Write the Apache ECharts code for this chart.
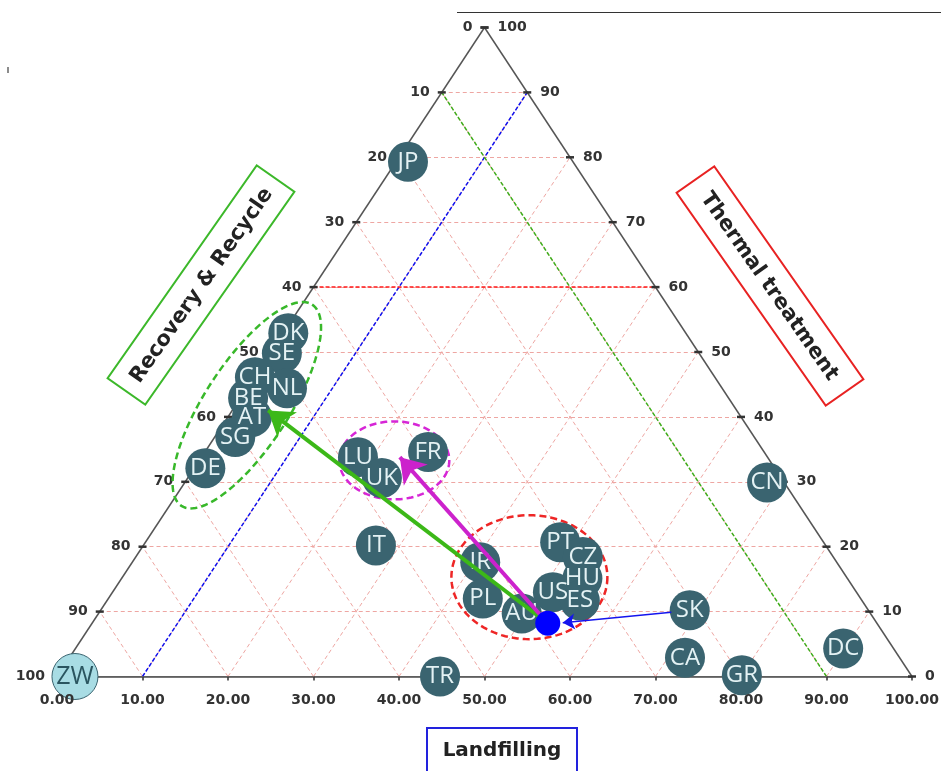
<!DOCTYPE html>
<html>
<head>
<meta charset="utf-8">
<script src="https://cdn.jsdelivr.net/npm/echarts@6/dist/echarts.min.js"></script>
<style>
  html, body { margin: 0; padding: 0; background: #ffffff; }
  #chart { width: 941px; height: 771px; }
</style>
</head>
<body>
<div id="chart"></div>
<script>
// Waste treatment shares by country (%): landfilling, thermal treatment, recovery & recycle
const codes    = ['JP', 'DK', 'SE', 'CH', 'NL', 'BE', 'AT', 'SG', 'DE', 'LU', 'UK', 'FR', 'IT',
                  'PT', 'CZ', 'IR', 'HU', 'US', 'PL', 'ES', 'AU', 'SK', 'CA', 'GR', 'DC', 'CN', 'TR'];
const landfill = [1.4, 0.6, 1.4, 0.1, 4.7, 0.9, 2.8, 2.4, 1.3, 18.3, 22.7, 26.1, 27.2,
                  48.5, 52.3, 40.7, 53.9, 51.5, 43.8, 55.3, 49.5, 68.9, 72.0, 80.0, 89.8, 68.1, 44.8];
const thermal  = [79.3, 52.9, 49.8, 46.1, 44.4, 42.9, 40.0, 36.9, 32.1, 33.8, 30.6, 34.6, 20.2,
                  20.7, 18.4, 17.6, 15.1, 13.0, 12.0, 11.7, 9.7, 10.2, 2.9, 0.2, 4.3, 29.9, 0.0];
const recycle  = [19.3, 46.5, 48.8, 53.8, 50.9, 56.2, 57.2, 60.7, 66.6, 47.9, 46.7, 39.3, 52.6,
                  30.8, 29.3, 41.7, 31.0, 35.5, 44.2, 33.0, 40.8, 20.9, 25.1, 19.8, 5.9, 2.0, 55.2];

// Zero-waste reference point and the highlighted mean position
const zeroWaste    = { code: 'ZW', landfill: 2.1, thermal: 0.0, recycle: 97.9 };
const meanPoint    = { landfill: 53.3, thermal: 8.2, recycle: 38.5 };

// Arrows [landfill, thermal] from -> to
const arrowFrom = [[53.3, 8.2], [53.3, 8.2], [66.9, 9.9]];
const arrowTo   = [[4.2, 41.0], [23.2, 33.8], [55.0, 8.3]];

// Group outlines: centre [landfill, thermal]
const groupCentres = [[1.3, 41.8], [22.8, 33.3], [47.6, 15.3]];

// Reference lines: landfill = 10, recycle = 10, thermal = 60 ([landfill, thermal] ends)
const refLineEnds = [
  [[10, 0], [10, 90]],
  [[90, 0], [0, 90]],
  [[0, 60], [40, 60]]
];

const tickSteps = [0, 10, 20, 30, 40, 50, 60, 70, 80, 90, 100];

// ternary (landfill, thermal) -> cartesian, bottom axis = landfill, height = thermal
function toXY(L, T) { return [L + T / 2, T]; }

const pink = '#eea6a2';
const gridSegs = [];
for (let k = 10; k <= 90; k += 10) {
  gridSegs.push({ coords: [toXY(0, k), toXY(100 - k, k)] });   // constant thermal
  gridSegs.push({ coords: [toXY(k, 0), toXY(k, 100 - k)] });   // constant landfill
  gridSegs.push({ coords: [toXY(100 - k, 0), toXY(0, 100 - k)] }); // constant recycle
}

const edgeSegs = [
  { coords: [toXY(0, 0), toXY(0, 100)] },
  { coords: [toXY(100, 0), toXY(0, 100)] },
  { coords: [toXY(0, 0), toXY(100, 0)] }
];

const refColors = ['#1010ee', '#3fae1c', '#ff1818'];
const refSegs = refLineEnds.map((e, i) => ({
  coords: [toXY(e[0][0], e[0][1]), toXY(e[1][0], e[1][1])],
  lineStyle: { color: refColors[i] }
}));

const tickFont = { fontFamily: 'DejaVu Sans', fontWeight: 'bold', fontSize: 14, color: '#333333' };

const leftTicks = tickSteps.map(T => ({ name: String(100 - T), value: toXY(0, T) }));
const rightTicks = tickSteps.map(T => ({ name: String(T), value: toXY(100 - T, T) }));
const bottomTicks = tickSteps.map(L => ({ name: L.toFixed(2), value: toXY(L, 0) }));

const countryData = codes.map((c, i) => ({ name: c, value: toXY(landfill[i], thermal[i]) }));

const ellipseStyles = [
  { rx: 120, ry: 42, angle: 57, color: '#38b82a' },
  { rx: 55, ry: 39, angle: 0, color: '#d626d6' },
  { rx: 78, ry: 62, angle: 0, color: '#ee2626' }
];

const arrowStyles = [
  { color: '#3cb818', width: 4, size: [20, 24] },
  { color: '#cc22cc', width: 4, size: [20, 24] },
  { color: '#1414ee', width: 1.5, size: [9, 12] }
];

const chart = echarts.init(document.getElementById('chart'), null, { renderer: 'canvas' });

chart.setOption({
  animation: false,
  backgroundColor: '#ffffff',
  grid: { left: 57, right: 29, top: 27.5, bottom: 94.5, containLabel: false, outerBoundsMode: 'none' },
  xAxis: {
    type: 'value', min: 0, max: 100, interval: 10,
    axisLine: { show: true, lineStyle: { color: '#555', width: 1.5 } },
    axisTick: { show: true, length: 4, lineStyle: { color: '#333', width: 1.5 } },
    axisLabel: { show: false },
    splitLine: { show: false }
  },
  yAxis: { type: 'value', min: 0, max: 100, show: false },
  graphic: [
    { type: 'line', shape: { x1: 457, y1: 12.5, x2: 941, y2: 12.5 }, style: { stroke: '#333', lineWidth: 1 } },
    { type: 'line', shape: { x1: 8, y1: 67, x2: 8, y2: 73 }, style: { stroke: '#666', lineWidth: 1.5 } },
    {
      type: 'group', x: 201, y: 285, rotation: 55 * Math.PI / 180,
      children: [
        { type: 'rect', shape: { x: -130, y: -23, width: 260, height: 46 },
          style: { fill: 'none', stroke: '#3cb82a', lineWidth: 2 } },
        { type: 'text', style: { text: 'Recovery & Recycle', x: 0, y: 1, align: 'center', verticalAlign: 'middle',
          font: 'bold 21px "DejaVu Sans"', fill: '#222' } }
      ]
    },
    {
      type: 'group', x: 770, y: 286, rotation: -55 * Math.PI / 180,
      children: [
        { type: 'rect', shape: { x: -130, y: -23, width: 260, height: 46 },
          style: { fill: 'none', stroke: '#e82222', lineWidth: 2 } },
        { type: 'text', style: { text: 'Thermal treatment', x: 0, y: 1, align: 'center', verticalAlign: 'middle',
          font: 'bold 21px "DejaVu Sans"', fill: '#222' } }
      ]
    },
    {
      type: 'group', x: 502, y: 752,
      children: [
        { type: 'rect', shape: { x: -75, y: -24, width: 150, height: 50 },
          style: { fill: 'none', stroke: '#2222dd', lineWidth: 2 } },
        { type: 'text', style: { text: 'Landfilling', x: 0, y: -1, align: 'center', verticalAlign: 'middle',
          font: 'bold 20px "DejaVu Sans"', fill: '#222' } }
      ]
    }
  ],
  series: [
    {
      name: 'grid', type: 'lines', coordinateSystem: 'cartesian2d', silent: true, z: 1,
      lineStyle: { color: pink, width: 1, type: [4, 3], opacity: 1 },
      data: gridSegs
    },
    {
      name: 'reference', type: 'lines', coordinateSystem: 'cartesian2d', silent: true, z: 2,
      lineStyle: { width: 1.5, type: [4, 2], opacity: 1 },
      data: refSegs
    },
    {
      name: 'edges', type: 'lines', coordinateSystem: 'cartesian2d', silent: true, z: 3,
      lineStyle: { color: '#555', width: 1.5, opacity: 1 },
      data: edgeSegs
    },
    {
      name: 'leftTicks', type: 'scatter', silent: true, z: 3,
      symbol: 'rect', symbolSize: [8, 2.5], itemStyle: { color: '#333', opacity: 1 },
      label: Object.assign({ show: true, position: 'left', distance: 8, formatter: '{b}' }, tickFont),
      data: leftTicks
    },
    {
      name: 'rightTicks', type: 'scatter', silent: true, z: 3,
      symbol: 'rect', symbolSize: [8, 2.5], itemStyle: { color: '#333', opacity: 1 },
      label: Object.assign({ show: true, position: 'right', distance: 9, formatter: '{b}' }, tickFont),
      data: rightTicks
    },
    {
      name: 'groups', type: 'custom', silent: true, z: 4,
      data: groupCentres.map(c => toXY(c[0], c[1])),
      renderItem: function (params, api) {
        const p = api.coord([api.value(0), api.value(1)]);
        const s = ellipseStyles[params.dataIndex];
        const a = s.angle * Math.PI / 180;
        const pts = [];
        for (let i = 0; i < 120; i++) {
          const t = i / 120 * Math.PI * 2;
          const ex = s.rx * Math.cos(t), ey = s.ry * Math.sin(t);
          pts.push([p[0] + ex * Math.cos(a) + ey * Math.sin(a), p[1] - ex * Math.sin(a) + ey * Math.cos(a)]);
        }
        return {
          type: 'polygon', shape: { points: pts },
          style: { fill: 'none', stroke: s.color, lineWidth: 2.5, lineDash: [7, 4] }
        };
      }
    },
    {
      name: 'countries', type: 'scatter', z: 5,
      symbol: 'circle', symbolSize: 40,
      itemStyle: { color: '#3a6470', opacity: 1 },
      label: { show: true, position: 'inside', formatter: '{b}', color: '#e4f2f4',
               fontFamily: 'Open Sans', fontSize: 24 },
      data: countryData
    },
    {
      name: 'zeroWaste', type: 'scatter', z: 5,
      symbol: 'circle', symbolSize: 46,
      itemStyle: { color: '#a8dce4', borderColor: '#3a6470', borderWidth: 1, opacity: 1 },
      label: { show: true, position: 'inside', formatter: '{b}', color: '#2a5560',
               fontFamily: 'Open Sans', fontSize: 25 },
      data: [{ name: zeroWaste.code, value: toXY(zeroWaste.landfill, zeroWaste.thermal) }]
    },
    {
      name: 'bottomTicks', type: 'scatter', silent: true, z: 8,
      symbol: 'circle', symbolSize: 2,
      itemStyle: { color: 'rgba(0,0,0,0)', opacity: 1 },
      label: Object.assign({ show: true, position: 'bottom', distance: 16, formatter: '{b}' }, tickFont),
      data: bottomTicks
    },
    {
      name: 'arrows', type: 'lines', coordinateSystem: 'cartesian2d', silent: true, z: 6,
      symbol: ['none', 'arrow'],
      data: arrowFrom.map((f, i) => ({
        coords: [toXY(f[0], f[1]), toXY(arrowTo[i][0], arrowTo[i][1])],
        symbolSize: arrowStyles[i].size,
        lineStyle: { color: arrowStyles[i].color, width: arrowStyles[i].width, opacity: 1 }
      }))
    },
    {
      name: 'mean', type: 'scatter', z: 7,
      symbol: 'circle', symbolSize: 25,
      itemStyle: { color: '#0000ff', opacity: 1 },
      data: [toXY(meanPoint.landfill, meanPoint.thermal)]
    }
  ]
});
</script>
</body>
</html>
